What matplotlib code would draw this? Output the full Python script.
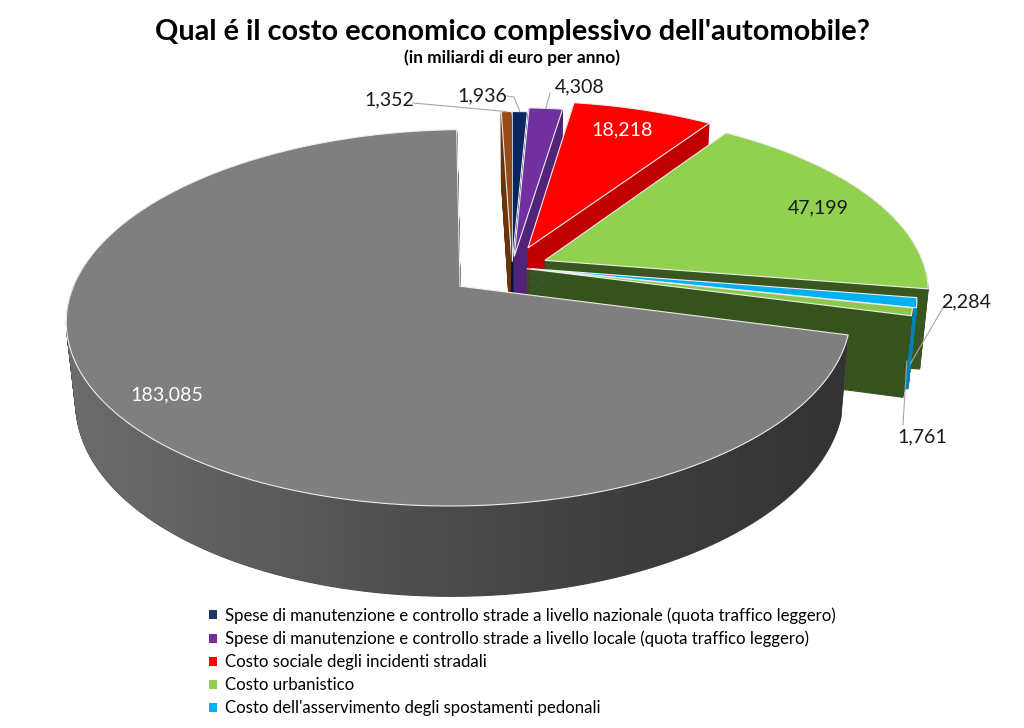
import numpy as np
import matplotlib
matplotlib.use("Agg")
import matplotlib.pyplot as plt
import matplotlib.transforms as mtransforms
from matplotlib.path import Path
from matplotlib.patches import Patch, PathPatch
from matplotlib.colors import LinearSegmentedColormap

# ---------------- data (slices clockwise from 12 o'clock) ----------------
slice_values = [1.936, 4.308, 18.218, 47.199, 2.284, 1.761, 183.085, 1.352]
legend_labels = [
    "Spese di manutenzione e controllo strade a livello nazionale (quota traffico leggero)",
    "Spese di manutenzione e controllo strade a livello locale (quota traffico leggero)",
    "Costo sociale degli incidenti stradali",
    "Costo urbanistico",
    "Costo dell'asservimento degli spostamenti pedonali",
]
title_text = "Qual é il costo economico complessivo dell'automobile?"
subtitle_text = "(in miliardi di euro per anno)"

# ---------------- styles ----------------
top_colors = ["#0B2560", "#7030A0", "#FF0000", "#92D050", "#00B0F0", "#8CC84B", "#7F7F7F", "#9A4A14"]
wall_colors = ["#06163C", "#522479", "#C00000", "#39561F", "#0082B5", "#37531D", "#4E4E4E", "#6B3309"]
explode = [0.03, 0.06, 0.118, 0.095, 0.05, 0.04, 0.172, 0.03]
legend_colors = ["#1F3864", "#7030A0", "#FF0000", "#92D050", "#00B0F0"]
gray_wall_shades = ["#6C6C6C", "#5C5C5C", "#4A4A4A", "#3C3C3C", "#333333"]

# perspective camera (pixel space)
CX, CY = 512.0, 267.0
FOC = 2043.0
DIST = 5.38
TILT = np.deg2rad(27.7)
SIN, COS = np.sin(TILT), np.cos(TILT)
DEPTH = 0.24
N_LAYERS = 70


class Persp(mtransforms.Transform):
    input_dims = 2
    output_dims = 2
    is_separable = False
    has_inverse = False

    def __init__(self, z):
        super().__init__()
        self.z = z

    def transform_non_affine(self, values):
        values = np.asarray(values, float).reshape(-1, 2)
        u, v = values[:, 0], values[:, 1]
        yc = v * SIN + self.z * COS
        dc = DIST + v * COS - self.z * SIN
        return np.column_stack([CX + FOC * u / dc, CY - FOC * yc / dc])

    def transform_path_non_affine(self, path):
        pts = []
        for seg, code in path.iter_bezier():
            cp = seg.control_points
            if len(cp) == 1:
                pts.append(cp[0])
                continue
            n = 2 if len(cp) == 2 else 40
            t = np.linspace(0, 1, n)[1:]
            pts.extend(list(seg(t)))
        pts = np.asarray(pts)
        return Path(self.transform_non_affine(pts), closed=True)


fig = plt.figure(figsize=(10.24, 7.28), dpi=100)
ax = fig.add_axes([0, 0, 1, 1])

# drawing order: back slices first
fr = np.array(slice_values) / np.sum(slice_values)
mid_cw = (np.cumsum(fr) - fr / 2) * 2 * np.pi
rank = np.empty(len(slice_values), int)
rank[np.argsort(-np.cos(mid_cw))] = np.arange(len(slice_values))

GRAY = 6
zs = np.linspace(-DEPTH, 0, N_LAYERS + 1)
top_wedges = None
gray_layer_paths = []
for li, z in enumerate(zs):
    wedges, _ = ax.pie(slice_values, startangle=90, counterclock=False,
                       explode=explode, radius=1.0, center=(0, 0))
    pt = Persp(z)
    tr = pt + ax.transData
    top = li == len(zs) - 1
    for i, w in enumerate(wedges):
        w.set_transform(tr)
        w.set_zorder(1 + rank[i] + li / (N_LAYERS + 2))
        if top:
            w.set_facecolor(top_colors[i])
            w.set_edgecolor("#EDEDED")
            w.set_linewidth(0.8)
        else:
            w.set_facecolor(wall_colors[i])
            w.set_edgecolor(wall_colors[i])
            w.set_linewidth(0.8)
            if i == GRAY:
                gray_layer_paths.append(pt.transform_path_non_affine(w.get_path()))
    if top:
        top_wedges = wedges

# horizontal shading of the grey outer wall
wall_path = Path.make_compound_path(*gray_layer_paths)
ext = wall_path.get_extents()
cmap = LinearSegmentedColormap.from_list("gw", gray_wall_shades)
grad = np.linspace(0, 1, 256)[None, :]
im = ax.imshow(grad, cmap=cmap, aspect="auto", interpolation="bilinear",
               extent=[ext.x0 - 2, ext.x1 + 2, ext.y1 + 2, ext.y0 - 2],
               zorder=1 + rank[GRAY] + (N_LAYERS - 0.5) / (N_LAYERS + 2))
clip = PathPatch(wall_path, transform=ax.transData, facecolor="none", edgecolor="none")
im.set_clip_path(clip)

ax.set_aspect("auto")
ax.set_xlim(0, 1024)
ax.set_ylim(728, 0)
ax.axis("off")


def rim_point(i, z=0.0, rfac=1.0):
    w = top_wedges[i]
    a = np.deg2rad((w.theta1 + w.theta2) / 2)
    cx, cy = w.center
    p = np.array([[cx + rfac * w.r * np.cos(a), cy + rfac * w.r * np.sin(a)]])
    return Persp(z).transform_non_affine(p)[0]


renderer = fig.canvas.get_renderer()


def fit(t, target):
    bb = t.get_window_extent(renderer=renderer)
    t.set_fontsize(t.get_fontsize() * target / bb.width)


FONT = "Lato"
t1 = ax.text(512, 32, title_text, ha="center", va="center", fontsize=20,
             fontweight="bold", family=FONT, color="black", zorder=20)
fit(t1, 715)
t2 = ax.text(512, 58, subtitle_text, ha="center", va="center", fontsize=10,
             fontweight="bold", family=FONT, color="black", zorder=20)
fit(t2, 215)

fmt = [f"{v:.3f}".replace(".", ",") for v in slice_values]
probe = ax.text(0, 0, fmt[6], fontsize=14, family=FONT)
bb = probe.get_window_extent(renderer=renderer)
lab_fs = 14 * 73 / bb.width
probe.remove()

label_pos = {0: (482, 96), 1: (580, 87), 2: (622, 130), 3: (818, 208),
             4: (966, 302), 5: (922, 437), 6: (167, 395), 7: (389, 100)}
label_col = {2: "white", 6: "white"}
for i, (x, y) in label_pos.items():
    ax.text(x, y, fmt[i], ha="center", va="center", fontsize=lab_fs, family=FONT,
            color=label_col.get(i, "#1A1A1A"), zorder=20)

# leader lines
lc = dict(color="#A6A6A6", lw=0.8, zorder=19)
p = rim_point(7)
ax.plot([413, p[0]], [103, p[1]], **lc)
p = rim_point(0)
ax.plot([507, 514, p[0]], [96, 97, p[1]], **lc)
p = rim_point(1)
ax.plot([550, p[0]], [93, p[1]], **lc)
p = rim_point(4, z=-0.75 * DEPTH)
ax.plot([948, 944, p[0]], [303, 306, p[1]], **lc)
p = rim_point(5, z=-0.6 * DEPTH)
ax.plot([903, p[0]], [425, p[1]], **lc)

# legend
probe = ax.text(0, 0, legend_labels[0], fontsize=12, family=FONT)
bb = probe.get_window_extent(renderer=renderer)
leg_fs = 12 * 608 / bb.width
probe.remove()
handles = [Patch(facecolor=c, edgecolor="none") for c in legend_colors]
fig.legend(handles, legend_labels, loc="upper left",
           bbox_to_anchor=(209 / 1024, 1 - 607 / 728), frameon=False,
           prop={"family": FONT, "size": leg_fs}, handlelength=0.45,
           handleheight=0.45, handletextpad=0.5, labelspacing=0.42,
           borderpad=0, borderaxespad=0)

fig.savefig("out.png", dpi=100, facecolor="white")
